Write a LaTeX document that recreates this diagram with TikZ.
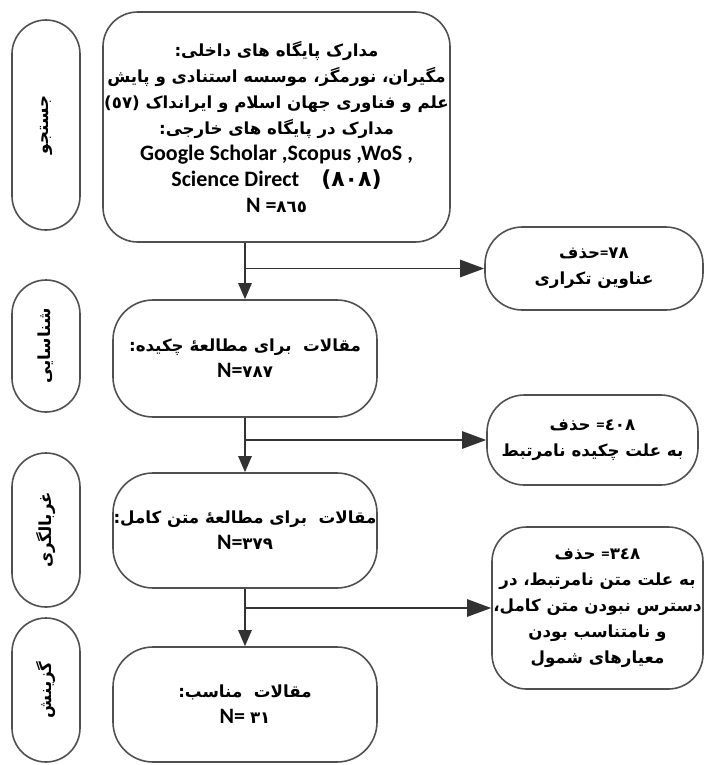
\documentclass[tikz,border=0pt]{standalone}
\usepackage{fontspec}
\setmainfont{Carlito}
\newfontfamily\arabicfont[Script=Arabic]{DejaVu Sans}
\TeXXeTstate=1
\usetikzlibrary{arrows.meta,shapes.misc}

\newcommand{\fa}[1]{{\arabicfont\beginR #1\endR}}
\newcommand{\eqsign}{{\rmfamily=}}
\newcommand{\lat}{\fontsize{16.5}{19.5}\selectfont}
\definecolor{boxline}{RGB}{80,80,80}
\definecolor{arrowdark}{RGB}{50,50,50}

\tikzset{every picture/.style={line width=0.75pt}}
\tikzset{
  boxbase/.style={draw=boxline, line width=1.2pt, align=center, inner sep=0pt, text=black,
    font=\bfseries\fontsize{12.5}{19.5}\selectfont},
  stagebox/.style={boxbase, rounded rectangle, rotate=90, minimum height=51pt,
    font=\bfseries\fontsize{12.5}{14}\selectfont},
  mainbox/.style={boxbase, rectangle, rounded corners=30pt},
  dropbox/.style={boxbase, rectangle, rounded corners=28pt},
  flowline/.style={draw=arrowdark, line width=1.2pt},
  downarr/.style={flowline, -{Triangle[length=12pt,width=10pt]}},
  sidearr/.style={flowline, -{Triangle[length=18pt,width=13pt]}}
}

\begin{document}
\begin{tikzpicture}[x=0.75pt,y=0.75pt,yscale=-1,xscale=1]
\useasboundingbox (0,0) rectangle (704,765);

%Stage labels
\node[stagebox, minimum width=157.5pt] (s1) at (46,125) {\fa{جستجو}};
\node[stagebox, minimum width=99pt] (s2) at (46,346) {\fa{شناسایی}};
\node[stagebox, minimum width=115.5pt] (s3) at (46,530) {\fa{غربالگری}};
\node[stagebox, minimum width=108pt] (s4) at (46,690) {\fa{گزینش}};

%Rounded Rect
\node[mainbox, rounded corners=26pt, minimum width=260.25pt, minimum height=172.5pt] (b1) at (276.5,127) {%
\fa{مدارک پایگاه های داخلی:}\\
\fa{مگیران، نورمگز، موسسه استنادی و پایش}\\
\fa{علم و فناوری جهان اسلام و ایرانداک \beginL(٥٧)\endL}\\
\fa{مدارک در پایگاه های خارجی:}\\
{\lat Google Scholar ,Scopus ,WoS ,}\\
{\lat Science Direct\quad{\arabicfont (٨٠٨)}}\\
{\lat N =}{\arabicfont ٨٦٥}};
%Rounded Rect
\node[mainbox, minimum width=198pt, minimum height=87.75pt] (b2) at (245,358.5) {%
\fa{مقالات\ \ برای مطالعهٔ چکیده:}\\
{\lat N=}{\arabicfont ٧٨٧}};
%Rounded Rect
\node[mainbox, minimum width=198pt, minimum height=86.25pt] (b3) at (245,530.5) {%
\fa{مقالات\ \ برای مطالعهٔ متن کامل:}\\
{\lat N=}{\arabicfont ٣٧٩}};
%Rounded Rect
\node[mainbox, minimum width=198pt, minimum height=86.25pt] (b4) at (245,704.5) {%
\fa{مقالات\ \ مناسب:}\\
{\lat N= }{\arabicfont ٣١}};

%Excluded records
\node[dropbox, minimum width=163.5pt, minimum height=62.25pt] (r1) at (594,268.5) {%
\fa{\beginL٧٨\endL\eqsign حذف}\\
\fa{عناوین تکراری}};
\node[dropbox, minimum width=158.25pt, minimum height=67.5pt] (r2) at (592.5,440) {%
\fa{\beginL٤٠٨\endL\eqsign\ حذف}\\
\fa{به علت چکیده نامرتبط}};
\node[dropbox, rounded corners=26pt, minimum width=158.25pt, minimum height=121.5pt] (r3) at (597.5,608) {%
\fa{\beginL٣٤٨\endL\eqsign\ حذف}\\
\fa{به علت متن نامرتبط، در}\\
\fa{دسترس نبودن متن کامل،}\\
\fa{و نامتناسب بودن}\\
\fa{معیارهای شمول}};

%Straight Lines
\coordinate (j1) at (b2.north |- r1.west);
\coordinate (j2) at (b3.north |- r2.west);
\coordinate (j3) at (b4.north |- r3.west);
\draw[downarr] (b1.south -| b2.north) -- (b2.north);
\draw[downarr] (b2.south) -- (b3.north);
\draw[downarr] (b3.south) -- (b4.north);
\draw[sidearr] (j1) -- (r1.west);
\draw[sidearr] (j2) -- (r2.west);
\draw[sidearr] (j3) -- (r3.west);

\end{tikzpicture}
\end{document}
